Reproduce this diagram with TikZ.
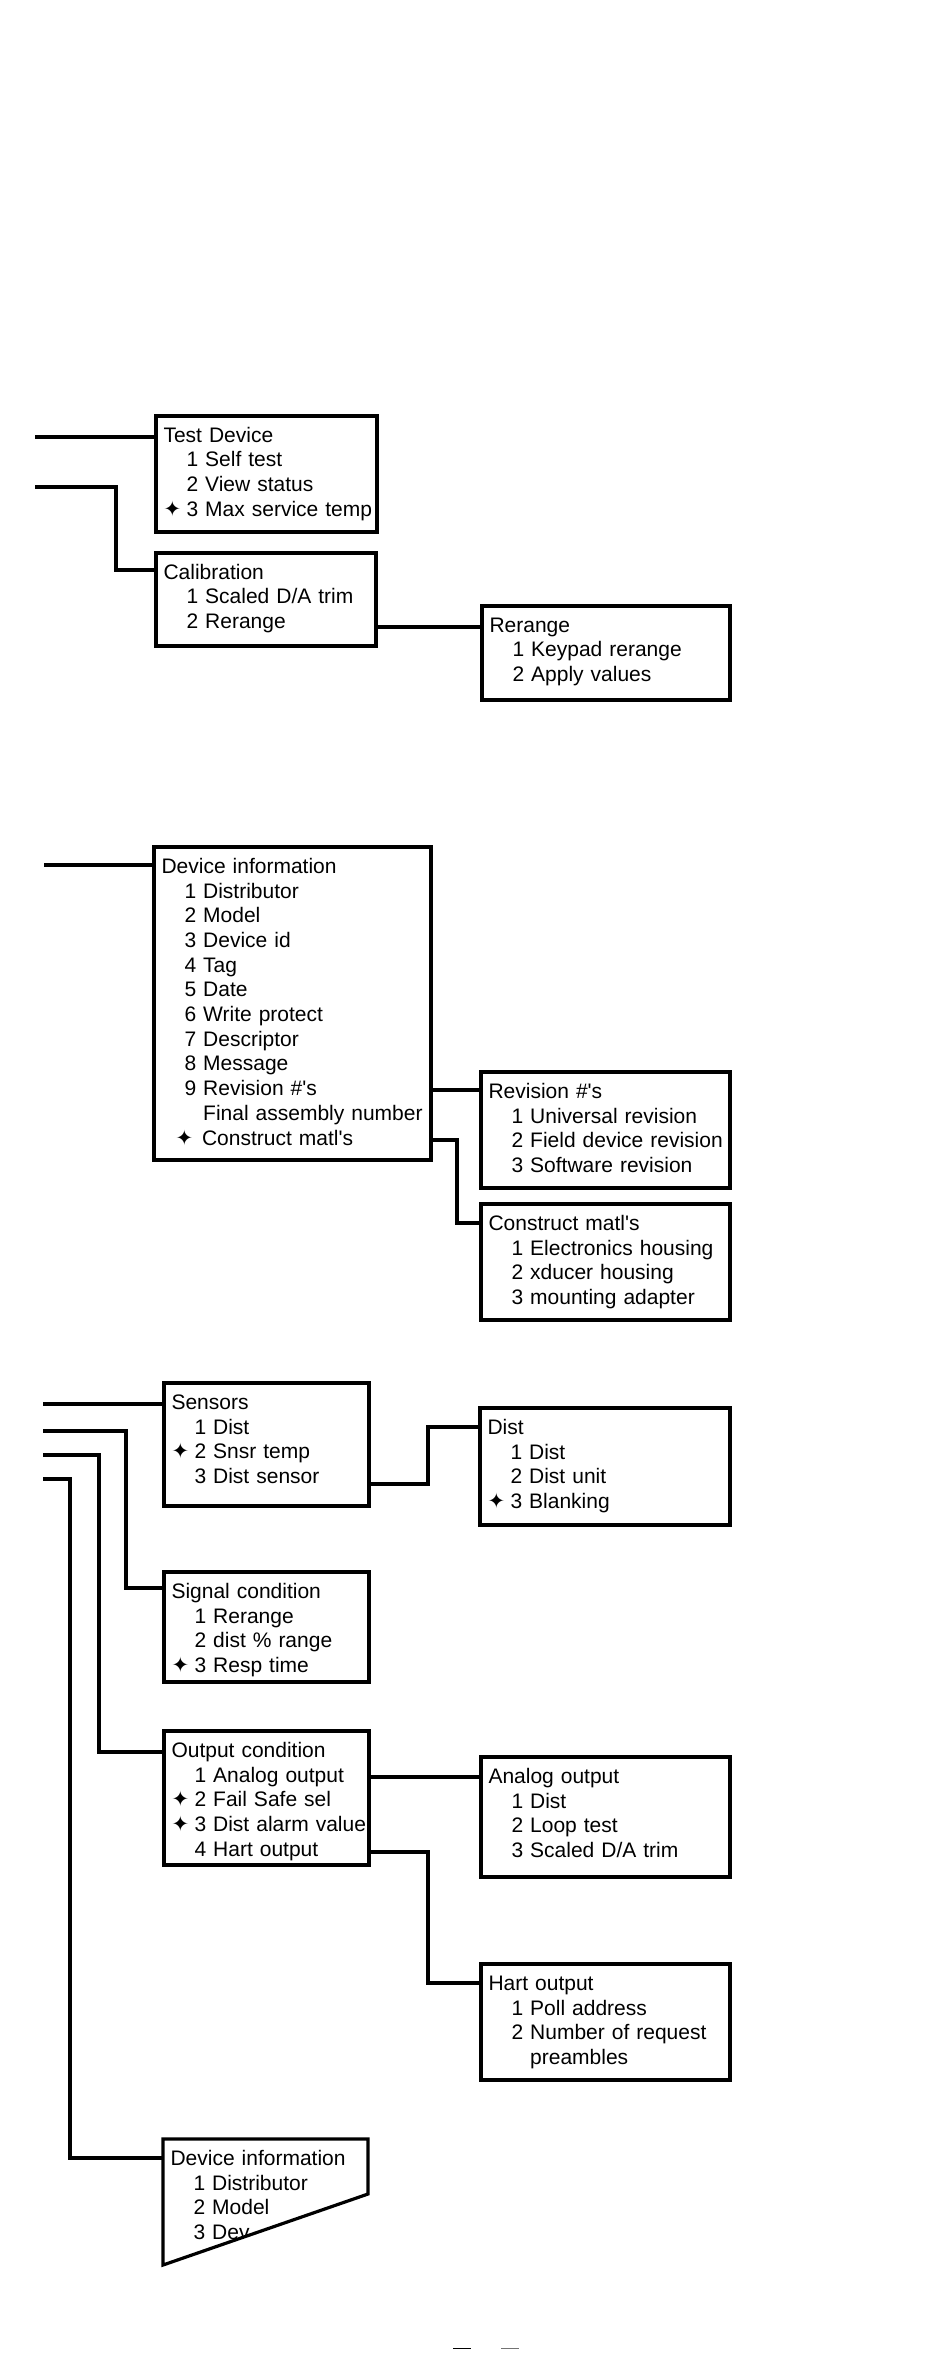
\documentclass[tikz,border=0pt]{standalone}
\usepackage{fontspec}
\setmainfont{Liberation Sans}
\newfontfamily\starfont{DejaVu Sans}
\usepackage{tikz}
\usetikzlibrary{calc}

\newcommand{\Entries}[1]{\begin{tabular}[t]{@{}l@{}}#1\end{tabular}}
\newcommand{\Star}{\smash{\starfont\fontsize{21}{21}\selectfont ✦}}
\newcommand{\Opt}{\hspace*{23pt}}
\newcommand{\HotOpt}{\makebox[23pt][l]{\Star}}

\tikzset{
  menubox/.style 2 args={anchor=north west, outer sep=0pt, inner xsep=7.5pt, inner ysep=9pt,
                         text width=#1pt-15pt, text depth=#2pt-35.3pt}
}

\begin{document}
\begin{tikzpicture}[x=1pt, y=-1pt, line width=3.2pt,
                    font=\fontsize{21}{24.7}\selectfont]

  \useasboundingbox (0,0) rectangle (950,2358);

  % test device, calibration
  \node[menubox={221}{116}] (td) at (156,416)
       {\Entries{Test Device\\ \Opt 1 Self test\\ \Opt 2 View status\\ \HotOpt 3 Max service temp}};
  \node[menubox={220}{93}] (cal) at (156,553)
       {\Entries{Calibration\\ \Opt 1 Scaled D/A trim\\ \Opt 2 Rerange}};
  \node[menubox={248}{94}] (rr) at (482,606)
       {\Entries{Rerange\\ \Opt 1 Keypad rerange\\ \Opt 2 Apply values}};

  % device information
  \node[menubox={277}{313}] (di) at (154,847)
       {\Entries{Device information\\ \Opt 1 Distributor\\ \Opt 2 Model\\ \Opt 3 Device id\\
        \Opt 4 Tag\\ \Opt 5 Date\\ \Opt 6 Write protect\\ \Opt 7 Descriptor\\ \Opt 8 Message\\
        \Opt 9 Revision \#\textquotesingle s\\ \Opt\phantom{9 }Final assembly number\\
        \hspace*{14pt}\makebox[26.5pt][l]{\Star}Construct matl\textquotesingle s}};
  \node[menubox={249}{116}] (rev) at (481,1072)
       {\Entries{Revision \#\textquotesingle s\\ \Opt 1 Universal revision\\ \Opt 2 Field device revision\\ \Opt 3 Software revision}};
  \node[menubox={249}{116}] (con) at (481,1204)
       {\Entries{Construct matl\textquotesingle s\\ \Opt 1 Electronics housing\\ \Opt 2 xducer housing\\ \Opt 3 mounting adapter}};

  % sensors, signal and output condition
  \node[menubox={205}{123}] (sen) at (164,1383)
       {\Entries{Sensors\\ \Opt 1 Dist\\ \HotOpt 2 Snsr temp\\ \Opt 3 Dist sensor}};
  \node[menubox={250}{117}] (dist) at (480,1408)
       {\Entries{Dist\\ \Opt 1 Dist\\ \Opt 2 Dist unit\\ \HotOpt 3 Blanking}};
  \node[menubox={205}{110}] (sig) at (164,1572)
       {\Entries{Signal condition\\ \Opt 1 Rerange\\ \Opt 2 dist \% range\\ \HotOpt 3 Resp time}};
  \node[menubox={205}{134}] (out) at (164,1731)
       {\Entries{Output condition\\ \Opt 1 Analog output\\ \HotOpt 2 Fail Safe sel\\ \HotOpt 3 Dist alarm value\\ \Opt 4 Hart output}};
  \node[menubox={249}{120}] (ana) at (481,1757)
       {\Entries{Analog output\\ \Opt 1 Dist\\ \Opt 2 Loop test\\ \Opt 3 Scaled D/A trim}};
  \node[menubox={249}{116}] (hart) at (481,1964)
       {\Entries{Hart output\\ \Opt 1 Poll address\\ \Opt 2 Number of request\\ \Opt\phantom{2 }preambles}};

  % box outlines
  \foreach \b in {td,cal,rr,di,rev,con,sen,dist,sig,out,ana,hart}
    \draw (\b.north west) rectangle (\b.south east);

  % torn-off box at the bottom
  \coordinate (di2-a) at (163,2139);
  \coordinate (di2-b) at (368,2139);
  \coordinate (di2-c) at (368,2194);
  \coordinate (di2-d) at (163,2265);
  \begin{scope}
    \clip (di2-a) -- (di2-b) -- (di2-c) -- (di2-d) -- cycle;
    \node[menubox={205}{126}] (di2) at (di2-a)
         {\Entries{Device information\\ \Opt 1 Distributor\\ \Opt 2 Model\\ \Opt 3 Dev}};
  \end{scope}
  \draw (di2-a) -- (di2-b) -- (di2-c) -- (di2-d) -- cycle;

  % title lines
  \coordinate (cal-t)  at ([yshift=-17pt]cal.north west);
  \coordinate (rr-t)   at ([yshift=-21pt]rr.north west);
  \coordinate (rev-t)  at ([yshift=-18pt]rev.north west);
  \coordinate (con-t)  at ([yshift=-19pt]con.north west);
  \coordinate (dist-t) at ([yshift=-19pt]dist.north west);
  \coordinate (sig-t)  at ([yshift=-16pt]sig.north west);
  \coordinate (out-t)  at ([yshift=-21pt]out.north west);
  \coordinate (ana-t)  at ([yshift=-20pt]ana.north west);
  \coordinate (hart-t) at ([yshift=-19pt]hart.north west);
  \coordinate (di2-t)  at ([yshift=-19pt]di2.north west);

  % loose ends on the left
  \coordinate (td-in)  at (35,437);
  \coordinate (cal-in) at (35,487);
  \coordinate (di-in)  at (44,865);
  \coordinate (sen-in) at (43,1404);
  \coordinate (sig-in) at (43,1431);
  \coordinate (out-in) at (43,1455);
  \coordinate (di2-in) at (43,1479);

  \draw (td-in) -- (td-in -| td.west);
  \draw (cal-in) -| ([xshift=-40pt]cal-t) -- (cal-t);
  \draw (rr-t -| cal.east) -- (rr-t);

  \draw (di-in) -- (di-in -| di.west);
  \draw (rev-t -| di.east) -- (rev-t);
  \draw ([yshift=20pt]di.south east) -| ([xshift=-24pt]con-t) -- (con-t);

  \draw (sen-in) -- (sen-in -| sen.west);
  \draw (sig-in) -| ([xshift=-38pt]sig-t) -- (sig-t);
  \draw (out-in) -| ([xshift=-65pt]out-t) -- (out-t);
  \draw (di2-in) -| ([xshift=-93pt]di2-t) -- (di2-t);
  \draw ([yshift=22pt]sen.south east) -| ([xshift=-52pt]dist-t) -- (dist-t);
  \draw (ana-t -| out.east) -- (ana-t);
  \draw ([yshift=13pt]out.south east) -| ([xshift=-53pt]hart-t) -- (hart-t);

  % page marks
  \draw[line width=1pt] (453,2348) -- (471,2348);
  \draw[line width=1pt, black!55] (501,2348) -- (519,2348);

\end{tikzpicture}
\end{document}
